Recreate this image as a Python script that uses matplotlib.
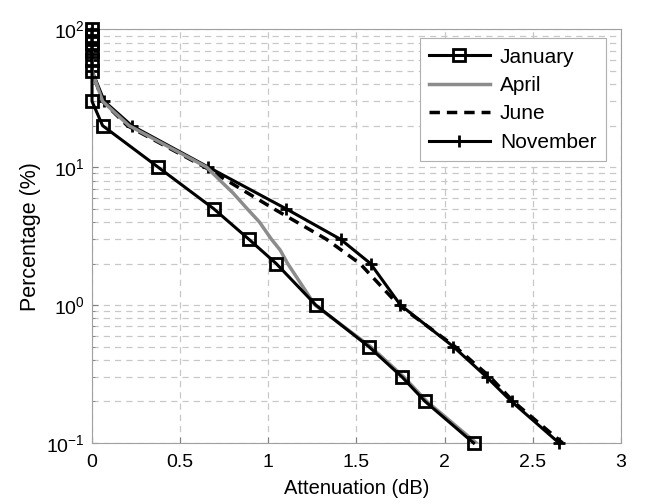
import numpy as np
import matplotlib
matplotlib.use("Agg")
import matplotlib.pyplot as plt
from matplotlib.ticker import LogLocator, FixedLocator, FixedFormatter

plt.rcParams['font.family'] = ['Liberation Sans', 'DejaVu Sans']
plt.rcParams['mathtext.fontset'] = 'custom'
plt.rcParams['mathtext.rm'] = 'Liberation Sans'

# exceedance percentages (%)
pct = [100, 90, 80, 70, 60, 50, 30, 20, 10, 5, 3, 2, 1, 0.5, 0.3, 0.2, 0.1]

# attenuation (dB) for each month
jan = [0, 0, 0, 0, 0, 0, 0.0, 0.06, 0.375, 0.69, 0.89, 1.045, 1.27, 1.57, 1.76, 1.89, 2.165]
jun = [0, 0, 0, 0, 0, 0, 0.06, 0.2, 0.64, 1.03, 1.33, 1.52, 1.74, 2.06, 2.26, 2.39, 2.67]
nov = [0, 0, 0, 0, 0, 0, 0.07, 0.225, 0.66, 1.10, 1.41, 1.58, 1.75, 2.05, 2.24, 2.38, 2.65]

# April is drawn as a smooth curve, read at more levels
apr_pct = [100, 90, 80, 70, 60, 50, 30, 20, 10, 8, 6.5, 5, 4, 3, 2.5, 2, 1.6, 1, 0.5, 0.3, 0.2, 0.1]
apr = [0, 0, 0, 0, 0, 0, 0.06, 0.21, 0.65, 0.727, 0.80, 0.88, 0.95, 1.018, 1.068, 1.11, 1.16, 1.265,
       1.58, 1.77, 1.9, 2.18]

xticks = [0, 0.5, 1, 1.5, 2, 2.5, 3]
xticklabels = ['0', '0.5', '1', '1.5', '2', '2.5', '3']

fig = plt.figure(figsize=(6.48, 5.04), dpi=100)
ax = fig.add_axes([0.142, 0.121, 0.816, 0.821])

ax.plot(jan, pct, color='black', lw=2.2, marker='s', ms=9, mfc='none', mew=2, label='January',
        zorder=5, clip_on=False)
ax.plot(apr, apr_pct, color='#8c8c8c', lw=2.5, label='April', zorder=4)
ax.plot(jun, pct, color='black', lw=2.5, ls=(0, (3, 2)), label='June', zorder=3)
ax.plot(nov, pct, color='black', lw=2.2, marker='+', ms=8, mew=2, label='November', zorder=3,
        clip_on=False)

ax.set_yscale('log')
ax.set_xlim(0, 3)
ax.set_ylim(0.1, 100)
ax.xaxis.set_major_locator(FixedLocator(xticks))
ax.xaxis.set_major_formatter(FixedFormatter(xticklabels))
ax.yaxis.set_major_locator(LogLocator(base=10))
ax.yaxis.set_minor_locator(LogLocator(base=10, subs=np.arange(2, 10)))

ax.grid(True, which='major', axis='both', color='#c8c8c8', ls=(0, (5, 4)), lw=0.9)
ax.grid(True, which='minor', axis='y', color='#c8c8c8', ls=(0, (5, 4)), lw=0.9)

ax.tick_params(which='both', direction='in', labelsize=14, length=4, color='#808080')
ax.tick_params(which='minor', length=2)
ax.tick_params(axis='x', pad=8)
ax.tick_params(axis='y', pad=5)
for s in ax.spines.values():
    s.set_color('#a0a0a0')
    s.set_linewidth(0.8)

ax.set_xlabel('Attenuation (dB)', fontsize=14.5, labelpad=6)
ax.set_ylabel('Percentage (%)', fontsize=15.5, labelpad=4)

leg = ax.legend(loc='upper right', bbox_to_anchor=(0.972, 0.978), fontsize=15,
                handlelength=2.9, labelspacing=0.45, borderpad=0.45, handletextpad=0.5,
                borderaxespad=0, fancybox=False, framealpha=1, edgecolor='#b0b0b0')
leg.get_frame().set_linewidth(0.8)

fig.savefig('out.png', dpi=100)
